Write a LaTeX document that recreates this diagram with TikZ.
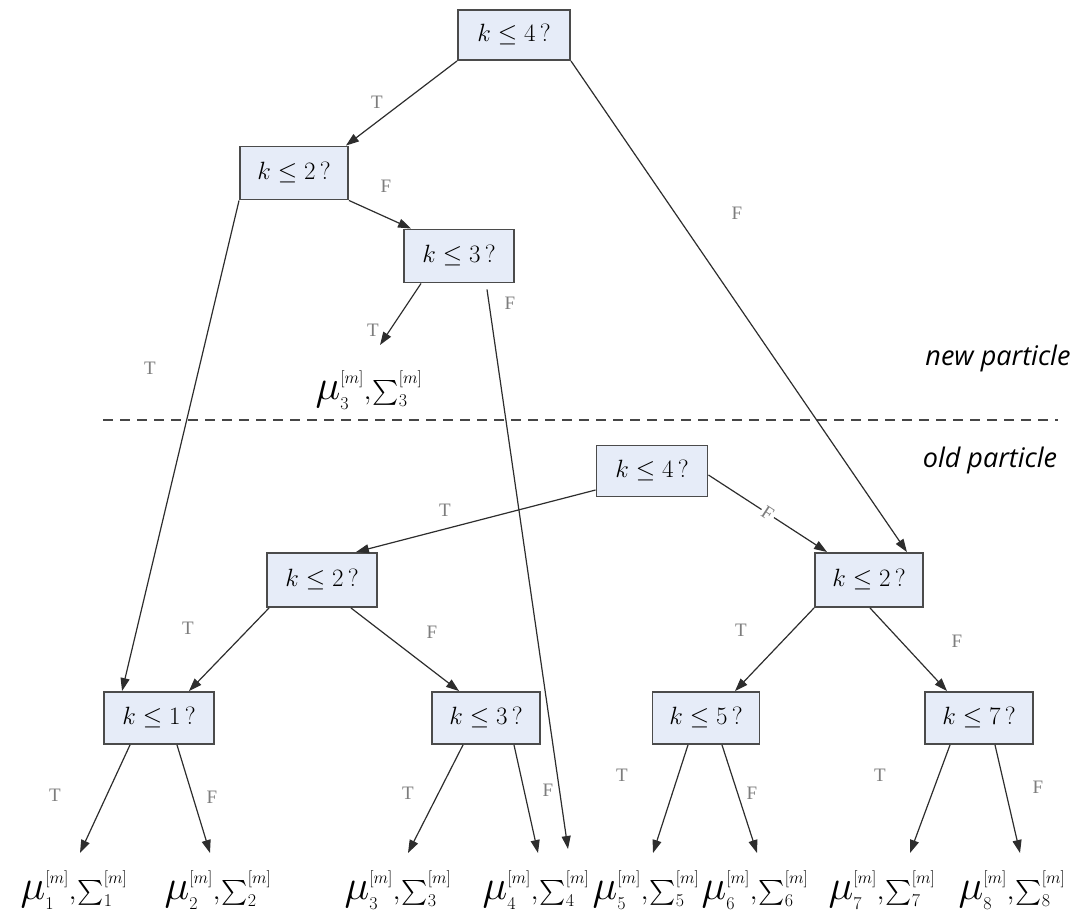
\RequirePackage{fix-cm}
\documentclass[tikz,border=0pt]{standalone}
\usepackage{exscale}
\usepackage{fontspec}
\usetikzlibrary{arrows.meta,calc}
\newfontfamily\tffont{Liberation Serif}
\newfontfamily\notefont{Open Sans}
\definecolor{boxfill}{RGB}{230,236,248}
\definecolor{boxline}{RGB}{75,75,75}
\definecolor{arrline}{RGB}{45,45,45}
\definecolor{lblgray}{RGB}{125,125,125}
\definecolor{dashgray}{RGB}{70,70,70}
\newcommand{\scrsub}[1]{\hbox{\fontsize{18}{18}\selectfont$#1$}}
\newcommand{\scrsup}[1]{\hbox{\fontsize{17}{17}\selectfont$#1$}}
\newcommand{\leafsum}[1]{%
{\fontsize{42}{42}\selectfont$\mu_{\scrsub{#1}}^{\scrsup{[m]}}$}%
\kern0pt{\fontsize{28}{28}\selectfont$,$}\kern1pt%
{\fontsize{25}{25}\selectfont$\sum\nolimits_{\scrsub{#1}}^{\raise4pt\scrsup{[m]}}$}}
\begin{document}
\begin{tikzpicture}[x=1pt,y=-1pt,
 box/.style={draw=boxline, fill=boxfill, line width=1.9pt, minimum width=110pt, minimum height=52pt, inner sep=0pt, font=\fontsize{25}{29}\selectfont},
 leaf/.style={inner sep=0pt, anchor=base},
 arr/.style={draw=arrline, line width=1.2pt, -{Triangle[length=13pt,width=9pt]}},
 tf/.style={text=lblgray, font=\tffont\fontsize{19}{22}\selectfont, inner sep=0pt},
 note/.style={font=\notefont\itshape\fontsize{27}{31}\selectfont, inner sep=0pt},
 sep/.style={draw=dashgray, line width=1.3pt, dash pattern=on 10pt off 7pt}]
\useasboundingbox (0,0) rectangle (1085,913);

% boxes
\node[box, minimum width=112pt, minimum height=50pt] (A) at (514,35) {$k\le 4\,?$};
\node[box, minimum width=108pt, minimum height=53pt] (B) at (294,173) {$k\le 2\,?$};
\node[box, minimum width=110pt, minimum height=53pt] (C) at (459,256) {$k\le 3\,?$};
\node[box, minimum width=111pt, minimum height=51pt] (D) at (652,471) {$k\le 4\,?$};
\node[box, minimum width=110pt, minimum height=54pt] (E) at (322,580) {$k\le 2\,?$};
\node[box, minimum width=108pt, minimum height=54pt] (F) at (869,580) {$k\le 2\,?$};
\node[box] (G) at (159,718) {$k\le 1\,?$};
\node[box, minimum width=108pt] (H) at (486,718) {$k\le 3\,?$};
\node[box, minimum width=107pt] (I) at (706,718) {$k\le 5\,?$};
\node[box, minimum width=108pt] (J) at (979,718) {$k\le 7\,?$};

% leaves
\node[leaf] (N3) at (369,399) {\leafsum{3}};
\node[leaf] (L1) at (74,899) {\leafsum{1}};
\node[leaf] (L2) at (218,899) {\leafsum{2}};
\node[leaf] (L3) at (398,899) {\leafsum{3}};
\node[leaf] (L4) at (536,899) {\leafsum{4}};
\node[leaf] (L5) at (646,899) {\leafsum{5}};
\node[leaf] (L6) at (755,899) {\leafsum{6}};
\node[leaf] (L7) at (882,899) {\leafsum{7}};
\node[leaf] (L8) at (1012,899) {\leafsum{8}};

% separator and notes
\draw[sep] (103,420) -- (1058,420);
\node[note] (np) at (998,358) {new particle};
\node[note] (op) at (990,460) {old particle};

% connectors
\draw[arr] (A.south west) -- ($(B.north east)+(-3,0)$);
\draw[arr] (A.south east) -- ($(F.north east)+(-17,0)$);
\draw[arr] (B.south east) -- ($(C.north west)+(8,0)$);
\draw[arr] (B.south west) -- ($(G.north west)+(19,0)$);
\draw[arr] ($(C.south west)+(18,0)$) -- ($(N3.base)+(11,-54)$);
\draw[arr] ($(C.south)+(28,6)$) -- ($(L4.base)+(32,-50)$);
\draw[arr] ($(D.west)+(0,19)$) -- ($(E.north east)+(-22,0)$);
\draw[arr] ($(D.east)+(0,4)$) -- node[sloped, fill=white, tf, inner sep=2pt] (lDF) {F} ($(F.north west)+(13,0)$);
\draw[arr] ($(E.south west)+(3,0)$) -- ($(G.north east)+(-26,0)$);
\draw[arr] ($(E.south east)+(-27,0)$) -- ($(H.north west)+(28,0)$);
\draw[arr] (F.south west) -- ($(I.north)+(29,0)$);
\draw[arr] ($(F.south)+(1,0)$) -- ($(J.north west)+(23,0)$);
\draw[arr] ($(G.south)+(-29,0)$) -- ($(L1.base)+(6,-46)$);
\draw[arr] ($(G.south)+(18,0)$) -- ($(L2.base)+(-8,-46)$);
\draw[arr] ($(H.south)+(-23,0)$) -- ($(L3.base)+(10,-46)$);
\draw[arr] ($(H.south)+(28,0)$) -- ($(L4.base)+(2,-46)$);
\draw[arr] ($(I.south)+(-18,0)$) -- ($(L5.base)+(7,-46)$);
\draw[arr] ($(I.south)+(16,0)$) -- ($(L6.base)+(2,-46)$);
\draw[arr] ($(J.south)+(-29,0)$) -- ($(L7.base)+(28,-46)$);
\draw[arr] ($(J.south)+(16,0)$) -- ($(L8.base)+(8,-46)$);

% T/F labels
\node[tf] (t1) at (377,102) {T};
\node[tf] (f1) at (737,213) {F};
\node[tf] (f2) at (386,186) {F};
\node[tf] (t2) at (150,368) {T};
\node[tf] (t3) at (373,330) {T};
\node[tf] (f3) at (510,303) {F};
\node[tf] (t4) at (445,510) {T};
\node[tf] (t5) at (188,628) {T};
\node[tf] (f5) at (432,632) {F};
\node[tf] (t6) at (741,630) {T};
\node[tf] (f6) at (957,641) {F};
\node[tf] (t7) at (55,795) {T};
\node[tf] (f7) at (212,797) {F};
\node[tf] (t8) at (408,793) {T};
\node[tf] (f8) at (548,790) {F};
\node[tf] (t9) at (622,775) {T};
\node[tf] (f9) at (752,793) {F};
\node[tf] (t10) at (880,775) {T};
\node[tf] (f10) at (1038,787) {F};
\end{tikzpicture}
\end{document}
